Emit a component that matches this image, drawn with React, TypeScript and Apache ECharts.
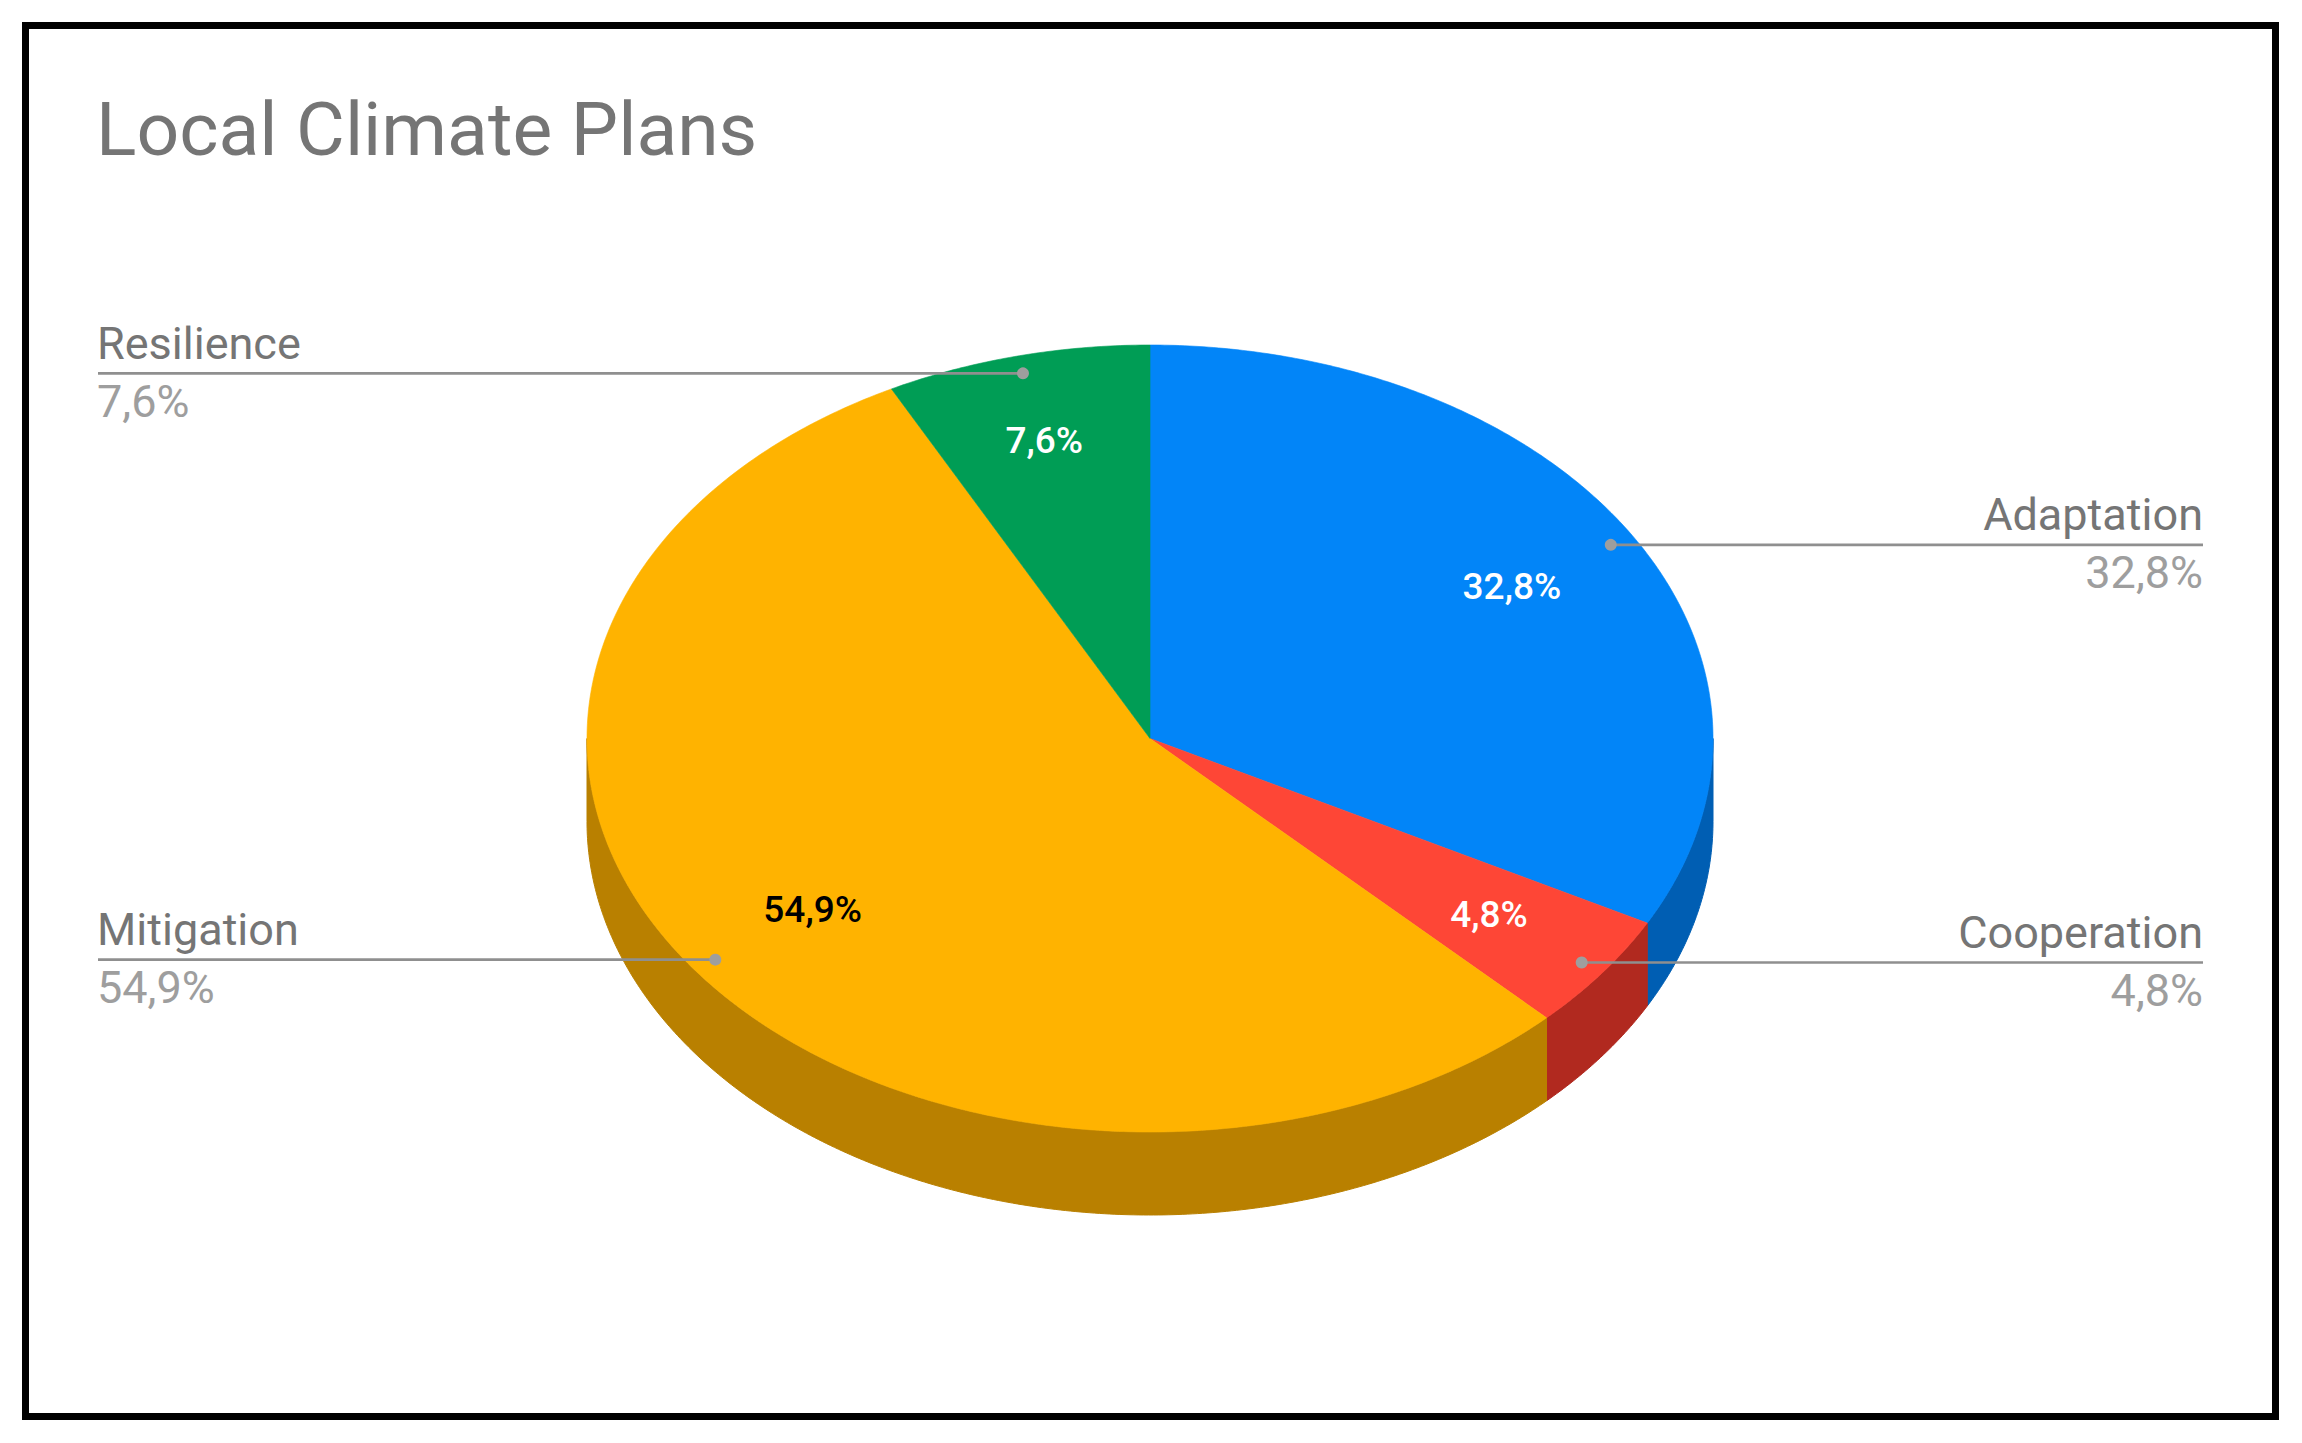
import React, { useEffect, useRef } from "react";
import * as echarts from "echarts";

// ---- data ----
const chartTitle = "Local Climate Plans";
const categories = ["Adaptation", "Cooperation", "Mitigation", "Resilience"];
const shares = [32.8, 4.8, 54.9, 7.6];
const topColors = ["#0285f8", "#fe4636", "#ffb300", "#009d55"];
const sideColors = ["#005eb3", "#b1291f", "#b98000", "#006e3b"];
const innerLabelColors = ["#ffffff", "#ffffff", "#000000", "#ffffff"];

// ---- layout ----
const W = 2302;
const H = 1443;
const CX = 1150;
const CY = 738.5;
const RX = 563;
const RY = 393.5;
const DEPTH = 83;
const LEFT_X = 97;
const RIGHT_X = 2203;
const FONT = "Roboto, 'Noto Sans', sans-serif";

function fmt(v: number): string {
  return v.toFixed(1).replace(".", ",") + "%";
}

function pt(theta: number, r = 1, dy = 0): number[] {
  return [CX + RX * r * Math.sin(theta), CY - RY * r * Math.cos(theta) + dy];
}

function arcPoints(a0: number, a1: number, dy = 0): number[][] {
  const n = Math.max(2, Math.ceil((a1 - a0) / (Math.PI / 360)));
  const out: number[][] = [];
  for (let k = 0; k <= n; k++) {
    out.push(pt(a0 + ((a1 - a0) * k) / n, 1, dy));
  }
  return out;
}

function renderItem(params: any, api: any) {
  const i = params.dataIndex;
  const total = shares.reduce((s, x) => s + x, 0);
  let start = 0;
  for (let j = 0; j < i; j++) start += shares[j];
  const v = api.value(0);
  const a0 = (start / total) * Math.PI * 2;
  const a1 = ((start + v) / total) * Math.PI * 2;
  const mid = (a0 + a1) / 2;
  const children: any[] = [];

  // side wall (visible front half only)
  const s0 = Math.max(a0, Math.PI / 2);
  const s1 = Math.min(a1, (Math.PI * 3) / 2);
  if (s1 > s0) {
    const top = arcPoints(s0, s1, 0);
    const bottom = arcPoints(s0, s1, DEPTH).reverse();
    children.push({
      type: "polygon",
      z2: 1,
      shape: { points: top.concat(bottom) },
      style: { fill: sideColors[i], stroke: sideColors[i], lineWidth: 1 },
    });
  }

  // top face
  children.push({
    type: "polygon",
    z2: 5,
    shape: { points: [[CX, CY]].concat(arcPoints(a0, a1, 0)) },
    style: { fill: topColors[i], stroke: topColors[i], lineWidth: 0.6 },
  });

  // inner label
  const lp = pt(mid, i === 3 ? 0.78 : 0.75);
  children.push({
    type: "text",
    z2: 20,
    x: lp[0] + (i === 2 ? 4 : i === 3 ? -2 : 0),
    y: lp[1] - (i === 2 ? 3 : 0),
    style: {
      text: fmt(v),
      fill: innerLabelColors[i],
      fontSize: 37,
      fontWeight: 500,
      fontFamily: FONT,
      align: "center",
      verticalAlign: "middle",
    },
  });

  // leader line + dot + outer labels
  const dp = pt(mid, 0.955);
  const isLeft = dp[0] < CX;
  const endX = isLeft ? LEFT_X + 1 : RIGHT_X;
  children.push({
    type: "line",
    z2: 30,
    shape: { x1: dp[0], y1: dp[1], x2: endX, y2: dp[1] },
    style: { stroke: "#8f8f8f", lineWidth: 2.6 },
  });
  children.push({
    type: "circle",
    z2: 31,
    shape: { cx: dp[0], cy: dp[1], r: 6 },
    style: { fill: "#9e9e9e" },
  });
  const tx = isLeft ? LEFT_X : RIGHT_X;
  const align = isLeft ? "left" : "right";
  children.push({
    type: "text",
    z2: 32,
    x: tx,
    y: dp[1] - 30,
    style: {
      text: categories[i],
      fill: "#757575",
      fontSize: 45,
      fontFamily: FONT,
      align,
      verticalAlign: "middle",
    },
  });
  children.push({
    type: "text",
    z2: 32,
    x: tx,
    y: dp[1] + 28,
    style: {
      text: fmt(v),
      fill: "#9e9e9e",
      fontSize: 45,
      fontFamily: FONT,
      align,
      verticalAlign: "middle",
    },
  });

  return { type: "group", children };
}

export default function App() {
  const ref = useRef<HTMLDivElement>(null);
  useEffect(() => {
    document.body.style.margin = "0";
    document.body.style.overflow = "hidden";
    const chart = echarts.init(ref.current as HTMLDivElement, undefined, { renderer: "svg" });
    chart.setOption({
      animation: false,
      backgroundColor: "#ffffff",
      title: {
        text: chartTitle,
        left: 96,
        top: 91.5,
        padding: 0,
        textStyle: {
          fontSize: 75,
          lineHeight: 75,
          color: "#757575",
          fontWeight: "normal",
          fontFamily: FONT,
        },
      },
      graphic: [
        {
          type: "rect",
          shape: { x: 25.5, y: 25.5, width: 2250, height: 1391 },
          style: { fill: "none", stroke: "#000000", lineWidth: 7 },
          z: 100,
        },
      ],
      series: [
        {
          type: "custom",
          coordinateSystem: "none",
          silent: true,
          renderItem,
          data: shares.map((v, i) => ({ name: categories[i], value: v })),
        },
      ],
    });
    return () => chart.dispose();
  }, []);
  return <div ref={ref} style={{ width: W, height: H }} />;
}
